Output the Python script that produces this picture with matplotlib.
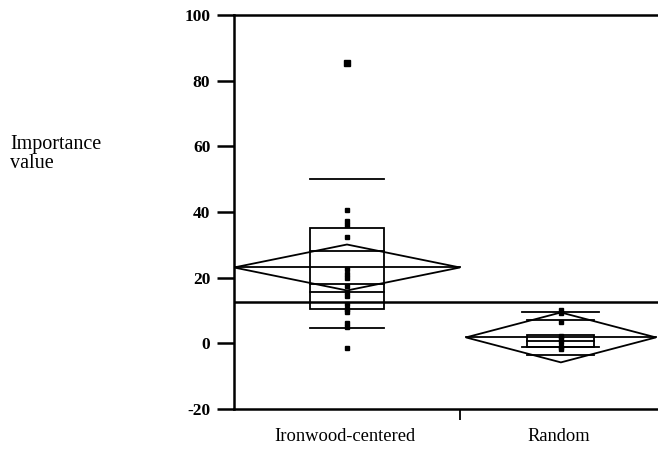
import matplotlib.pyplot as plt
from matplotlib.patches import Polygon, Rectangle


# ---------------------------------- #
# ---------------DATA--------------- #
# ---------------------------------- #

groups = ['Ironwood-centered', 'Random']
# Raw importance values
ironwood_points = [85.3, 40.6, 37.3, 36.0, 32.4, 22.5, 21.2, 20.0, 17.5,
                   15.6, 14.5, 12.0, 10.5, 9.5, 6.2, 5.0, -1.3]
random_points = [10.2, 9.3, 6.5, 2.2, 1.3, 0.5, -1.2, -1.8]
# Group means and 95% confidence half-widths (mean diamonds)
group_means = [23.1, 1.8]
group_ci = [7.0, 7.6]
# Quantile boxes: 10th, 25th, median, 75th, 90th
group_q10 = [4.6, -1.0]
group_q25 = [10.4, -1.0]
group_median = [15.6, 0.8]
group_q75 = [35.0, 2.5]
group_q90 = [50.2, 9.5]
grand_mean = 12.7

y_ticks = [-20, 0, 20, 40, 60, 80, 100]


# ---------------------------------- #
# ---------------PLOT--------------- #
# ---------------------------------- #

fig = plt.figure(figsize=(6.58, 4.5), dpi=100)
ax = fig.add_axes([0.3556, 0.0911, 0.6444, 0.8756])

# Horizontal layout of each group (x in axis fraction units)
centers = [0.2665, 0.771]
diamond_half = [0.2665, 0.224]
box_half = [0.088, 0.079]
cap_half = [0.088, 0.091]
boundary = 0.533
lw = 1.3

for i, pts in enumerate([ironwood_points, random_points]):
    c = centers[i]
    m = group_means[i]
    ci = group_ci[i]
    dh = diamond_half[i]
    # Mean diamond
    ax.add_patch(Polygon([[c - dh, m], [c, m + ci], [c + dh, m], [c, m - ci]],
                         closed=True, fill=False, lw=lw, color='black'))
    ax.plot([c - dh, c + dh], [m, m], color='black', lw=lw)
    # Overlap marks
    om = ci / 2 ** 0.5
    ax.plot([c - box_half[i], c + box_half[i]], [m + om, m + om], color='black', lw=lw)
    ax.plot([c - box_half[i], c + box_half[i]], [m - om, m - om], color='black', lw=lw)
    # Quantile box
    ax.add_patch(Rectangle((c - box_half[i], group_q25[i]), 2 * box_half[i],
                           group_q75[i] - group_q25[i], fill=False, lw=lw, color='black'))
    ax.plot([c - box_half[i], c + box_half[i]], [group_median[i]] * 2, color='black', lw=lw)
    # 10th and 90th quantile lines
    ax.plot([c - cap_half[i], c + cap_half[i]], [group_q90[i]] * 2, color='black', lw=lw)
    ax.plot([c - cap_half[i], c + cap_half[i]], [group_q10[i]] * 2, color='black', lw=lw)
    # Points, the big one is the outlier
    for p in pts:
        big = p > 80
        ax.plot(c, p, marker='s', color='black', linestyle='none',
                markersize=5 if big else 3)

# Grand mean line
ax.axhline(grand_mean, color='black', lw=1.8)

# Axes settings
ax.set_xlim(0, 1)
ax.set_ylim(-20, 100)
ax.set_yticks(y_ticks)
ax.set_yticklabels([str(t) for t in y_ticks], family='Liberation Serif',
                   fontsize=12.5, fontweight='bold')
ax.tick_params(axis='y', direction='out', length=12, width=1.8, pad=5)
ax.set_xticks([boundary])
ax.set_xticklabels([''])
ax.tick_params(axis='x', direction='out', length=8, width=1.3)
for side in ['left', 'top', 'bottom']:
    ax.spines[side].set_linewidth(1.8)
ax.spines['right'].set_visible(False)

# Group labels
for i, g in enumerate(groups):
    ax.text(centers[i] - 0.005, -0.07, g, transform=ax.transAxes, ha='center', va='center',
            family='Liberation Serif', fontsize=13.3)

# Y label on the far left
fig.text(10 / 658, 1 - 154 / 450, 'Importance\nvalue', ha='left', va='center',
         family='Liberation Serif', fontsize=14.5, linespacing=0.95)

fig.savefig('out.png', dpi=100)
plt.close()
